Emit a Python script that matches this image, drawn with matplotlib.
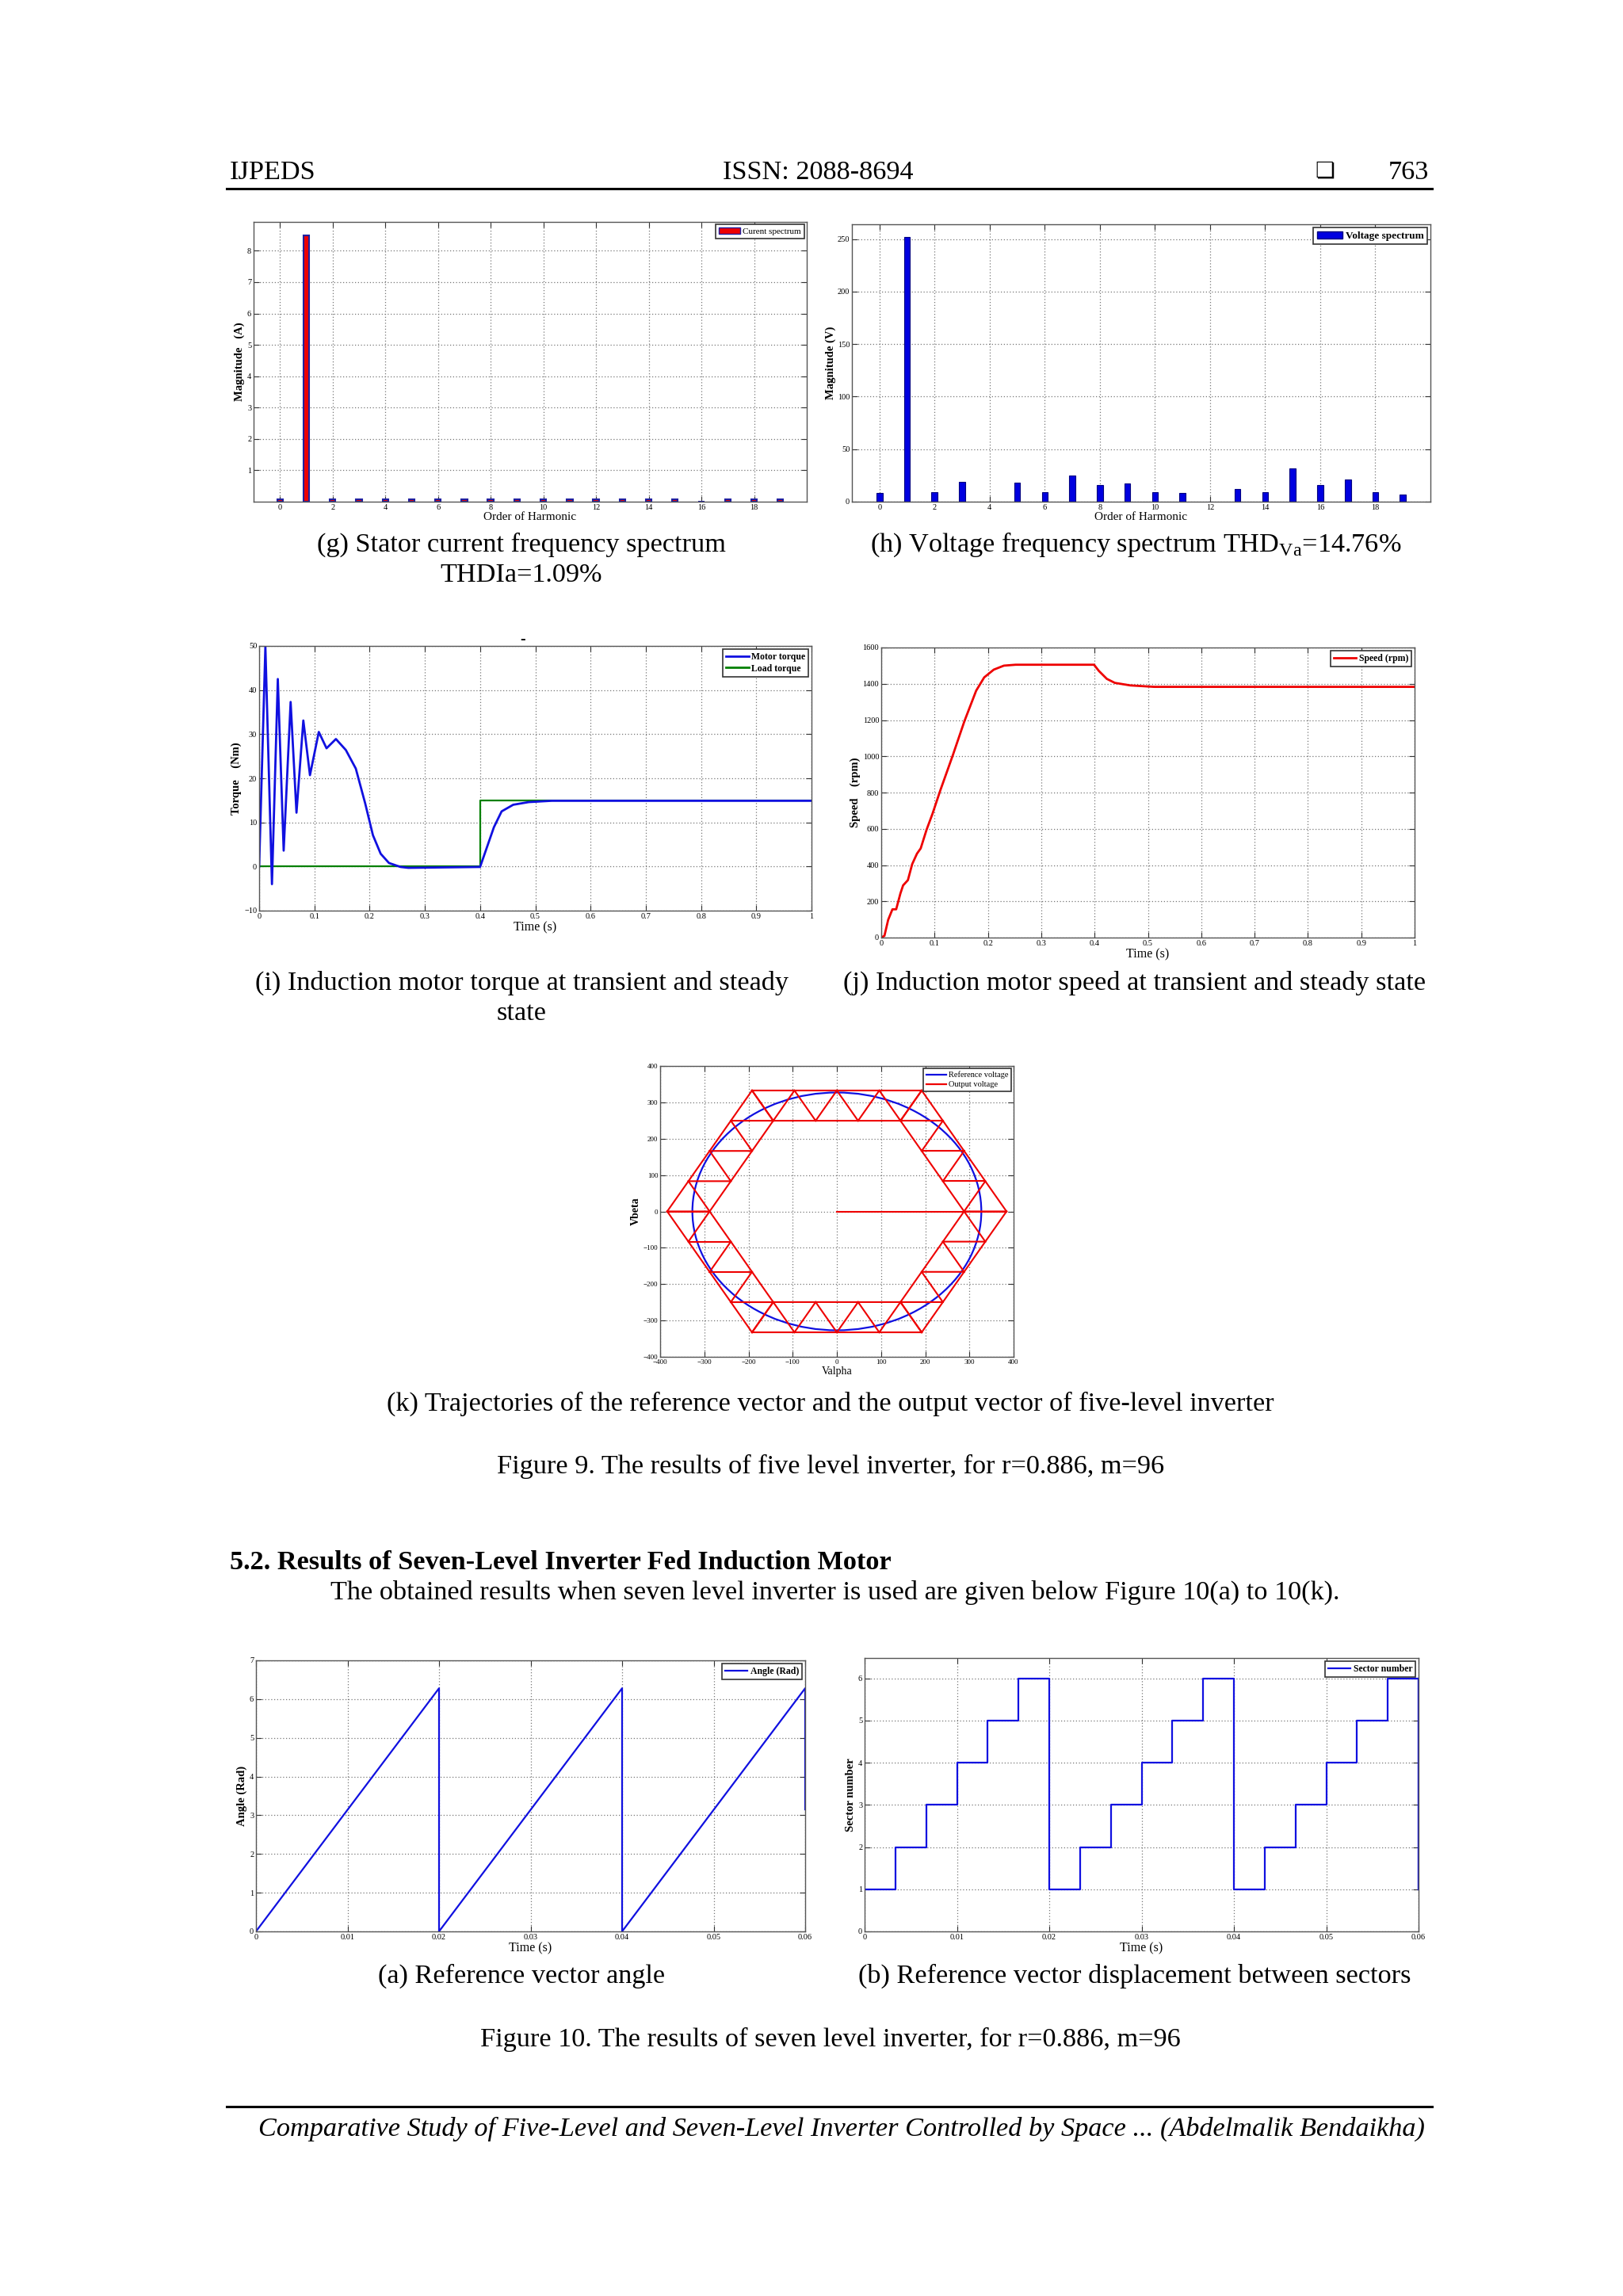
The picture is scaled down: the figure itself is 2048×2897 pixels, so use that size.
import numpy as np
import matplotlib
matplotlib.use("Agg")
import matplotlib.pyplot as plt
from matplotlib.lines import Line2D
from matplotlib.patches import Patch, Circle

W, H = 2048, 2897
plt.rcParams["font.family"] = ["Liberation Serif", "DejaVu Serif"]
plt.rcParams["mathtext.fontset"] = "custom"
plt.rcParams["mathtext.rm"] = "Liberation Serif"

# ---- data ----
harmonics = list(range(20))
current_mag = [0.07, 8.5, 0.07, 0.07, 0.07, 0.07, 0.07, 0.07, 0.07, 0.07,
               0.07, 0.07, 0.07, 0.07, 0.07, 0.07, 0.0, 0.07, 0.07, 0.07]
voltage_mag = [8, 252, 9, 19, 0, 18, 9, 25, 16, 17,
               9, 8, 0, 12, 9, 32, 16, 21, 9, 7]

torque_t = [0, 0.0113, 0.0232, 0.0338, 0.0444, 0.057, 0.0676, 0.080, 0.092,
            0.108, 0.122, 0.139, 0.157, 0.175, 0.192, 0.206, 0.220, 0.235,
            0.256, 0.27, 0.400, 0.41, 0.425, 0.439, 0.46, 0.488, 0.53, 1.0]
torque_v = [0, 49.8, -4, 42.5, 3.6, 37.3, 12.2, 33.1, 20.7,
            30.5, 26.8, 28.9, 26.4, 22.2, 14.3, 7.1, 2.9, 0.8,
            -0.1, -0.3, -0.1, 3.5, 8.9, 12.5, 14.0, 14.6, 14.9, 14.9]
load_t = [0, 0.4, 0.4, 1.0]
load_v = [0, 0, 15, 15]

speed_t = [0, 0.006, 0.013, 0.021, 0.028, 0.036, 0.041, 0.050, 0.058, 0.067,
           0.074, 0.085, 0.096, 0.111, 0.134, 0.156, 0.178, 0.193, 0.211,
           0.230, 0.252, 0.399, 0.408, 0.423, 0.438, 0.467, 0.512, 1.0]
speed_v = [0, 10, 98, 156, 156, 244, 288, 317, 405, 463,
           492, 595, 682, 814, 1004, 1194, 1362, 1435, 1478,
           1500, 1505, 1505, 1471, 1427, 1405, 1391, 1383, 1383]

# one 60 degree sector of the five-level space vector ring (V)
inner_x = [288, 240, 192, 144]
inner_y = [0, 83.1, 166.3, 249.4]
outer_x = [384, 336, 288, 240, 192]
outer_y = [0, 83.1, 166.3, 249.4, 332.6]
start_x = [0, 288]
start_y = [0, 0]
ref_radius = 327

angle_t = [0, 0.02, 0.02, 0.04, 0.04, 0.06, 0.06]
angle_v = [0, 6.28, 0, 6.28, 0, 6.28, 3.15]

sector_t = [0, 0.00333, 0.00667, 0.01, 0.01333, 0.01667,
            0.02, 0.02333, 0.02667, 0.03, 0.03333, 0.03667,
            0.04, 0.04333, 0.04667, 0.05, 0.05333, 0.05667, 0.06]
sector_v = [1, 2, 3, 4, 5, 6, 1, 2, 3, 4, 5, 6, 1, 2, 3, 4, 5, 6, 1]

fig = plt.figure(figsize=(W / 100, H / 100), dpi=100)
fig.patch.set_facecolor("white")


def px_axes(x0, y0, x1, y1):
    return fig.add_axes([x0 / W, 1 - y1 / H, (x1 - x0) / W, (y1 - y0) / H])


def matlab_style(ax):
    ax.grid(True, linestyle=(0, (1, 2)), color="#777777", linewidth=0.9)
    ax.tick_params(direction="in", top=True, right=True, length=5,
                   labelsize=7.5, width=0.8, color="#333333", pad=2)
    for s in ax.spines.values():
        s.set_color("#555555")
        s.set_linewidth(1.0)
    ax.set_axisbelow(True)


def leg(ax, handles, labels, size=8.5, **kw):
    l = ax.legend(handles, labels, loc="upper right", fontsize=size,
                  fancybox=False, framealpha=1, edgecolor="#333333",
                  borderpad=0.35, handlelength=2.4, borderaxespad=0.3,
                  labelspacing=0.25, handletextpad=0.3, **kw)
    l.get_frame().set_linewidth(1.2)


# (g) current spectrum
ax = px_axes(320, 280, 1018, 633)
ax.bar(harmonics, current_mag, width=0.22, color="#ee0000",
       edgecolor="#2020a0", linewidth=1.5)
ax.set_xlim(-1, 20)
ax.set_ylim(0, 8.92)
ax.set_xticks(range(0, 19, 2))
ax.set_yticks(range(1, 9))
matlab_style(ax)
ax.set_xlabel("Order of Harmonic", fontsize=11, labelpad=1)
ax.set_ylabel("Magnitude   (A)", fontsize=10.5, fontweight="bold", labelpad=2)
leg(ax, [Patch(facecolor="#ee0000", edgecolor="#2020a0")], ["Curent spectrum"], 8)

# (h) voltage spectrum
ax = px_axes(1075, 283, 1805, 633)
ax.bar(harmonics, voltage_mag, width=0.22, color="#0000e0",
       edgecolor="#000080", linewidth=0.8)
ax.set_xlim(-1, 20)
ax.set_ylim(0, 264)
ax.set_xticks(range(0, 19, 2))
ax.set_yticks(range(0, 251, 50))
matlab_style(ax)
ax.set_xlabel("Order of Harmonic", fontsize=11, labelpad=1)
ax.set_ylabel("Magnitude (V)", fontsize=10.5, fontweight="bold", labelpad=1)
leg(ax, [Patch(facecolor="#0000e0", edgecolor="#000080")], ["Voltage spectrum"], 9.5,
    prop={"size": 9.5, "weight": "bold"})

# (i) torque
ax = px_axes(327, 815, 1024, 1149)
ax.plot(load_t, load_v, color="#008000", linewidth=1.6)
ax.plot(torque_t, torque_v, color="#1010e0", linewidth=2.0)
ax.set_xlim(0, 1)
ax.set_ylim(-10, 50)
ax.set_xticks(np.round(np.arange(0, 1.01, 0.1), 1))
ax.set_xticklabels(["0", "0.1", "0.2", "0.3", "0.4", "0.5", "0.6", "0.7",
                    "0.8", "0.9", "1"])
ax.set_yticks(range(-10, 51, 10))
matlab_style(ax)
ax.set_xlabel("Time (s)", fontsize=11.5, labelpad=1)
ax.set_ylabel("Torque    (Nm)", fontsize=10.5, fontweight="bold", labelpad=2)
leg(ax, [Line2D([], [], color="#1010e0", lw=2), Line2D([], [], color="#008000", lw=2)],
    ["Motor torque", "Load torque"], 8.5, prop={"size": 8.5, "weight": "bold"})

# (j) speed
ax = px_axes(1112, 817, 1785, 1183)
ax.plot(speed_t, speed_v, color="#ee0000", linewidth=2.0)
ax.set_xlim(0, 1)
ax.set_ylim(0, 1600)
ax.set_xticks(np.round(np.arange(0, 1.01, 0.1), 1))
ax.set_xticklabels(["0", "0.1", "0.2", "0.3", "0.4", "0.5", "0.6", "0.7",
                    "0.8", "0.9", "1"])
ax.set_yticks(range(0, 1601, 200))
matlab_style(ax)
ax.set_xlabel("Time (s)", fontsize=11.5, labelpad=1)
ax.set_ylabel("Speed    (rpm)", fontsize=10.5, fontweight="bold", labelpad=2)
leg(ax, [Line2D([], [], color="#ee0000", lw=2)], ["Speed (rpm)"], 8.5,
    prop={"size": 8.5, "weight": "bold"})

# (k) trajectories
ax = px_axes(833, 1345, 1279, 1712)
ax.add_patch(Circle((0, 0), ref_radius, fill=False, edgecolor="#1010e0", linewidth=1.6))
for k in range(6):
    a = np.deg2rad(60 * k)
    c, s = np.cos(a), np.sin(a)
    ix = c * np.array(inner_x) - s * np.array(inner_y)
    iy = s * np.array(inner_x) + c * np.array(inner_y)
    ox = c * np.array(outer_x) - s * np.array(outer_y)
    oy = s * np.array(outer_x) + c * np.array(outer_y)
    ax.plot(ix, iy, color="#ee0000", linewidth=1.5)
    ax.plot(ox, oy, color="#ee0000", linewidth=1.5)
    for j in range(4):
        ax.plot([ix[j], ox[j]], [iy[j], oy[j]], color="#ee0000", linewidth=1.5)
        ax.plot([ix[j], ox[j + 1]], [iy[j], oy[j + 1]], color="#ee0000", linewidth=1.5)
ax.plot(start_x, start_y, color="#ee0000", linewidth=1.5)
ax.set_xlim(-400, 400)
ax.set_ylim(-400, 400)
ax.set_xticks(range(-400, 401, 100))
ax.set_yticks(range(-400, 401, 100))
matlab_style(ax)
ax.tick_params(labelsize=6.5)
ax.set_xlabel("Valpha", fontsize=10, labelpad=1)
ax.set_ylabel("Vbeta", fontsize=10, fontweight="bold", labelpad=2)
leg(ax, [Line2D([], [], color="#1010e0", lw=1.6), Line2D([], [], color="#ee0000", lw=1.6)],
    ["Reference voltage", "Output voltage"], 7.5)

# (a) angle
ax = px_axes(323, 2095, 1016, 2437)
ax.plot(angle_t, angle_v, color="#1010e0", linewidth=1.6)
ax.set_xlim(0, 0.06)
ax.set_ylim(0, 7)
ax.set_xticks([0, 0.01, 0.02, 0.03, 0.04, 0.05, 0.06])
ax.set_xticklabels(["0", "0.01", "0.02", "0.03", "0.04", "0.05", "0.06"])
ax.set_yticks(range(0, 8))
matlab_style(ax)
ax.set_xlabel("Time (s)", fontsize=11.5, labelpad=1)
ax.set_ylabel("Angle (Rad)", fontsize=10.5, fontweight="bold", labelpad=2)
leg(ax, [Line2D([], [], color="#1010e0", lw=1.6)], ["Angle (Rad)"], 8.5,
    prop={"size": 8.5, "weight": "bold"})

# (b) sector
ax = px_axes(1091, 2092, 1790, 2437)
ax.step(sector_t, sector_v, where="post", color="#1010e0", linewidth=1.6)
ax.plot([0.06, 0.06], [6, 1], color="#1010e0", linewidth=1.6)
ax.set_xlim(0, 0.06)
ax.set_ylim(0, 6.48)
ax.set_xticks([0, 0.01, 0.02, 0.03, 0.04, 0.05, 0.06])
ax.set_xticklabels(["0", "0.01", "0.02", "0.03", "0.04", "0.05", "0.06"])
ax.set_yticks(range(0, 7))
matlab_style(ax)
ax.set_xlabel("Time (s)", fontsize=11.5, labelpad=1)
ax.set_ylabel("Sector number", fontsize=10.5, fontweight="bold", labelpad=2)
leg(ax, [Line2D([], [], color="#1010e0", lw=1.6)], ["Sector number"], 8.5,
    prop={"size": 8.5, "weight": "bold"})

# ---- page text ----
FS = 24.7


def ptext(x, y, s, ha="center", **kw):
    fig.text(x / W, 1 - y / H, s, ha=ha, va="center", fontsize=kw.pop("fontsize", FS), **kw)


ptext(290, 218, "IJPEDS", ha="left")
ptext(1032, 218, "ISSN: 2088-8694")
ptext(1672, 216, "\u274f", fontsize=20, family=["DejaVu Sans"])
ptext(1803, 218, "763", ha="right")
fig.add_artist(Line2D([286 / W, 1807 / W], [1 - 238 / H, 1 - 238 / H], color="black", lw=2.2))

ptext(658, 687, "(g) Stator current frequency spectrum")
ptext(658, 726, "THDIa=1.09%")
ptext(1433, 687, r"(h) Voltage frequency spectrum THD$_{\rm Va}$=14.76%")
ptext(660, 808, "-", fontsize=14, fontweight="bold")
ptext(658, 1240, "(i) Induction motor torque at transient and steady")
ptext(658, 1279, "state")
ptext(1432, 1240, "(j) Induction motor speed at transient and steady state")
ptext(1048, 1771, "(k) Trajectories of the reference vector and the output vector of five-level inverter")
ptext(1048, 1850, "Figure 9. The results of five level inverter, for r=0.886, m=96")
ptext(290, 1971, "5.2. Results of Seven-Level Inverter Fed Induction Motor", ha="left", fontweight="bold")
ptext(417, 2009, "The obtained results when seven level inverter is used are given below Figure 10(a) to 10(k).", ha="left")
ptext(658, 2493, "(a) Reference vector angle")
ptext(1432, 2493, "(b) Reference vector displacement between sectors")
ptext(1048, 2573, "Figure 10. The results of seven level inverter, for r=0.886, m=96")
fig.add_artist(Line2D([286 / W, 1807 / W], [1 - 2658 / H, 1 - 2658 / H], color="black", lw=2.2))
ptext(1062, 2686, "Comparative Study of Five-Level and Seven-Level Inverter Controlled by Space ... (Abdelmalik Bendaikha)",
      style="italic")

fig.savefig("out.png", dpi=100, facecolor="white")
